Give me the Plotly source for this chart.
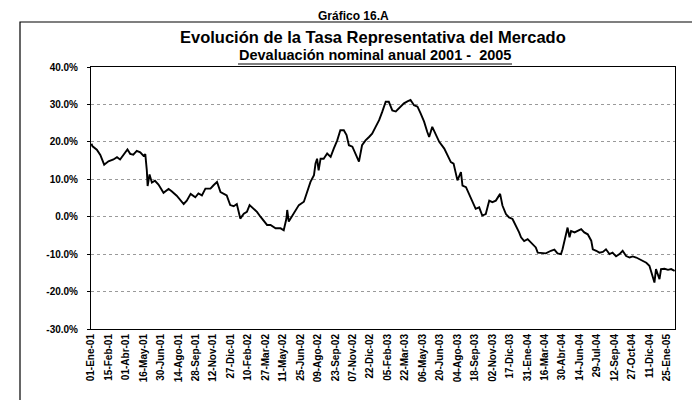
import pandas as pd
import plotly.graph_objects as go

# ---------------- data (devaluación nominal anual, %) ----------------
dates_2001 = ["2001-01-02", "2001-01-05", "2001-01-16", "2001-01-25", "2001-02-04", "2001-02-15",
              "2001-02-28", "2001-03-09", "2001-03-17", "2001-03-26", "2001-04-05", "2001-04-12",
              "2001-04-20", "2001-04-29", "2001-05-08", "2001-05-16", "2001-05-21", "2001-05-25",
              "2001-05-27", "2001-06-01", "2001-06-07", "2001-06-15", "2001-06-24", "2001-07-07",
              "2001-07-20", "2001-07-28", "2001-08-10", "2001-08-28", "2001-09-05", "2001-09-15",
              "2001-09-27", "2001-10-05", "2001-10-14", "2001-10-23", "2001-11-05", "2001-11-13",
              "2001-11-22", "2001-12-01", "2001-12-09", "2001-12-17", "2001-12-26"]
dev_2001 = [19.5, 18.8, 17.9, 16.5, 13.9, 14.8, 15.3, 15.9, 15.3, 16.6, 18.0, 16.8,
            16.6, 17.6, 17.2, 16.3, 16.7, 12.3, 8.2, 11.3, 9.1, 9.6, 8.6, 6.4,
            7.4, 6.8, 5.6, 3.4, 4.3, 6.1, 5.2, 6.2, 5.7, 7.5, 7.5, 8.4,
            9.3, 6.6, 6.2, 5.7, 3.1]

dates_2002 = ["2002-01-04", "2002-01-12", "2002-01-21", "2002-01-30", "2002-02-07", "2002-02-14",
              "2002-02-24", "2002-03-05", "2002-03-14", "2002-03-22", "2002-03-31", "2002-04-09",
              "2002-04-22", "2002-05-05", "2002-05-13", "2002-05-20", "2002-05-22", "2002-05-26",
              "2002-06-03", "2002-06-12", "2002-06-21", "2002-07-04", "2002-07-12", "2002-07-21",
              "2002-07-30", "2002-08-03", "2002-08-07", "2002-08-11", "2002-08-16", "2002-08-24",
              "2002-09-02", "2002-09-11", "2002-09-19", "2002-09-28", "2002-10-06", "2002-10-15",
              "2002-10-22", "2002-10-28", "2002-11-06", "2002-11-14", "2002-11-23", "2002-12-01",
              "2002-12-10", "2002-12-19", "2002-12-27"]
dev_2002 = [2.8, 3.4, -0.5, 0.8, 1.3, 3.1, 2.2, 1.3, 0.0, -0.9, -2.2, -2.2,
            -3.1, -3.1, -3.6, -0.5, 1.8, -1.3, 0.0, 1.3, 3.1, 4.0, 6.7, 9.3,
            11.1, 14.2, 15.5, 12.4, 15.5, 15.5, 16.9, 16.0, 18.2, 20.4, 23.1, 23.1,
            21.8, 19.1, 18.7, 16.9, 14.7, 19.1, 20.4, 21.3, 22.2]

dates_2003 = ["2003-01-05", "2003-01-14", "2003-01-22", "2003-01-31", "2003-02-08", "2003-02-17",
              "2003-02-26", "2003-03-11", "2003-03-19", "2003-03-28", "2003-04-05", "2003-04-14",
              "2003-04-23", "2003-05-01", "2003-05-10", "2003-05-18", "2003-05-23", "2003-05-31",
              "2003-06-09", "2003-06-18", "2003-07-01", "2003-07-09", "2003-07-18", "2003-07-25",
              "2003-07-31", "2003-08-04", "2003-08-13", "2003-08-17", "2003-08-26", "2003-09-03",
              "2003-09-12", "2003-09-20", "2003-09-29", "2003-10-07", "2003-10-16", "2003-10-20",
              "2003-10-25", "2003-11-02", "2003-11-11", "2003-11-22", "2003-11-28", "2003-12-07",
              "2003-12-15", "2003-12-24"]
dev_2003 = [24.0, 25.8, 28.0, 30.7, 30.7, 28.4, 28.1, 29.4, 30.3, 30.8, 31.2, 29.8,
            29.4, 27.6, 25.4, 22.7, 21.3, 24.0, 22.2, 20.0, 18.2, 16.4, 14.6, 14.2,
            11.9, 9.7, 11.9, 8.3, 7.9, 6.1, 4.3, 2.1, 2.5, 0.3, 0.7, 2.5,
            4.3, 3.9, 4.3, 6.1, 3.0, 0.7, -0.2, -0.6]

dates_2004 = ["2004-01-02", "2004-01-10", "2004-01-15", "2004-01-23", "2004-02-01", "2004-02-10",
              "2004-02-14", "2004-02-22", "2004-02-27", "2004-03-06", "2004-03-19", "2004-04-01",
              "2004-04-10", "2004-04-18", "2004-04-27", "2004-05-01", "2004-05-06", "2004-05-14",
              "2004-05-19", "2004-05-23", "2004-06-01", "2004-06-09", "2004-06-18", "2004-06-26",
              "2004-07-05", "2004-07-14", "2004-07-18", "2004-07-27", "2004-08-04", "2004-08-13",
              "2004-08-21", "2004-08-30", "2004-09-07", "2004-09-16", "2004-09-25", "2004-10-03",
              "2004-10-12", "2004-10-21", "2004-10-29", "2004-11-07", "2004-11-15", "2004-11-24",
              "2004-12-03", "2004-12-11", "2004-12-18", "2004-12-24", "2004-12-28"]
dev_2004 = [-2.4, -4.2, -5.5, -6.5, -6.0, -6.9, -7.3, -8.2, -9.6, -9.6, -9.8, -9.1,
            -8.8, -9.8, -10.0, -8.7, -6.4, -2.9, -5.5, -3.8, -4.2, -3.8, -3.3, -4.2,
            -4.7, -6.4, -8.7, -9.1, -9.6, -9.4, -8.7, -10.0, -9.6, -10.6, -10.0, -9.1,
            -10.5, -10.9, -10.6, -10.9, -11.4, -11.8, -12.3, -13.1, -15.4, -17.6, -14.0]

dates_2005 = ["2005-01-06", "2005-01-10", "2005-01-19", "2005-01-28", "2005-02-05", "2005-02-14"]
dev_2005 = [-16.7, -14.0, -13.9, -14.2, -14.0, -14.5]

x_labels = ["01-Ene-01", "15-Feb-01", "01-Abr-01", "16-May-01", "30-Jun-01", "14-Ago-01",
            "28-Sep-01", "12-Nov-01", "27-Dic-01", "10-Feb-02", "27-Mar-02", "11-May-02",
            "25-Jun-02", "09-Ago-02", "23-Sep-02", "07-Nov-02", "22-Dic-02", "05-Feb-03",
            "22-Mar-03", "06-May-03", "20-Jun-03", "04-Ago-03", "18-Sep-03", "02-Nov-03",
            "17-Dic-03", "31-Ene-04", "16-Mar-04", "30-Abr-04", "14-Jun-04", "29-Jul-04",
            "12-Sep-04", "27-Oct-04", "11-Dic-04", "25-Ene-05"]
y_ticks = [40, 30, 20, 10, 0, -10, -20, -30]
y_labels = ["40.0%", "30.0%", "20.0%", "10.0%", "0.0%", "-10.0%", "-20.0%", "-30.0%"]

dates = pd.to_datetime(dates_2001 + dates_2002 + dates_2003 + dates_2004 + dates_2005)
values = dev_2001 + dev_2002 + dev_2003 + dev_2004 + dev_2005
tick_dates = pd.date_range("2001-01-01", periods=len(x_labels), freq="45D")

# ---------------- figure ----------------
W, H = 700, 400
L, R, T, B = 83, 667, 59, 321          # plot area in pixels
def px(xp):
    return (xp - L) / (R - L)
def py(yp):
    return (B - yp) / (B - T)

FONT = "Arial, Liberation Sans, sans-serif"

fig = go.Figure()
fig.add_trace(go.Scatter(x=dates, y=values, mode="lines",
                         line=dict(color="black", width=1.9), showlegend=False,
                         hoverinfo="skip"))

fig.update_layout(
    width=W, height=H,
    margin=dict(l=L, r=W - R, t=T, b=H - B),
    paper_bgcolor="white", plot_bgcolor="white",
    font=dict(family=FONT, color="black"),
    xaxis=dict(range=["2001-01-01", "2005-02-15"], tickvals=tick_dates, ticktext=x_labels,
               tickangle=-90, tickfont=dict(size=10, weight="bold"), showgrid=False,
               showline=True, linecolor="black", linewidth=1, mirror=True, ticks="",
               zeroline=False),
    yaxis=dict(range=[-30, 40], tickvals=y_ticks, ticktext=y_labels,
               tickfont=dict(size=10, weight="bold"), showgrid=True, gridcolor="#9a9a9a",
               griddash="dot", gridwidth=1, zeroline=False, showline=True, linecolor="black",
               linewidth=1, mirror=True, ticks="outside", ticklen=3, tickcolor="black",
               ticklabelstandoff=7),
)

# outer frame of the exhibit
fig.add_shape(type="rect", xref="paper", yref="paper",
              x0=px(12), x1=px(690), y0=py(394), y1=py(14),
              line=dict(color="black", width=1.2), layer="above")

# headings
fig.add_annotation(text="<b>Gráfico 16.A</b>", xref="paper", yref="paper",
                   x=px(345), y=py(0), xanchor="center", yanchor="top", borderpad=0,
                   showarrow=False, font=dict(size=12, family=FONT, color="black"))
fig.add_annotation(text="<b>Evolución de la Tasa Representativa del Mercado</b>",
                   xref="paper", yref="paper", x=px(365), y=py(29), xanchor="center",
                   yanchor="middle", showarrow=False, font=dict(size=16.5, family=FONT))
fig.add_annotation(text="<b>Devaluación nominal anual 2001 -\u00a0 2005</b>",
                   xref="paper", yref="paper", x=px(367), y=py(47), xanchor="center",
                   yanchor="middle", showarrow=False, font=dict(size=14.5, family=FONT))
fig.add_shape(type="line", xref="paper", yref="paper", x0=px(230), x1=px(504),
              y0=py(56), y1=py(56), line=dict(color="black", width=1))

fig.write_html("out.html", config={"displayModeBar": False})
